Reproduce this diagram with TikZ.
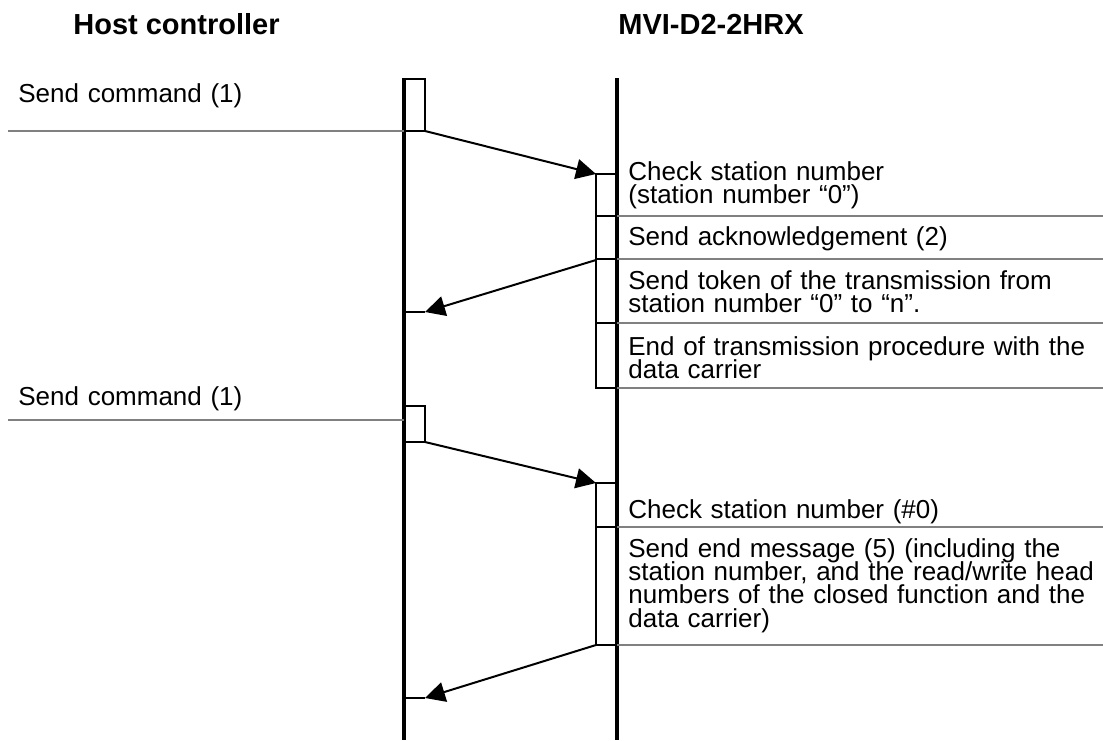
\documentclass[tikz,border=0pt]{standalone}
\usepackage{fontspec}
\setmainfont{Liberation Sans}
\usetikzlibrary{arrows.meta,positioning}
\newcommand{\notefont}{\fontsize{13}{11.7}\selectfont\setlength{\lineskiplimit}{-100pt}}

\begin{document}
\begin{tikzpicture}[x=0.5pt,y=-0.5pt,
  lifeline/.style={line width=2pt},
  actbox/.style={line width=1pt},
  msg/.style={line width=1pt,-{Triangle[length=10pt,width=10pt]}},
  guide/.style={line width=0.8pt,gray},
  title/.style={anchor=base west,inner sep=0pt,font=\fontsize{14.5}{17}\selectfont\bfseries},
  note/.style={anchor=base west,inner sep=0pt,text width=236pt,align=left,font=\notefont}]
\useasboundingbox (0,0) rectangle (1103,740);
% ---- titles ----
\node[title] (host) at (73,34) {Host controller};
\node[title] (mvi) at (618,34) {MVI-D2-2HRX};
% ---- lifelines ----
\draw[lifeline] (404,78) -- (404,740);
\draw[lifeline] (617,78) -- (617,740);
% ---- host controller side ----
\draw[actbox] (404,79) rectangle (425,131);
\draw[actbox] (404,406) rectangle (425,442);
\draw[actbox] (404,312) -- (425,312);
\draw[actbox] (404,698) -- (425,698);
\draw[guide] (8,131) -- (404,131);
\draw[guide] (8,420) -- (404,420);
\node[note,text width=180pt] (cmd1) at (18,102) {Send command (1)};
\node[note,text width=180pt] (cmd2) at (18,405) {Send command (1)};
% ---- module side ----
\draw[actbox] (596,174) rectangle (617,388);
\draw[actbox] (596,483) rectangle (617,645);
\foreach \y in {216,259,323,527}
  \draw[actbox] (596,\y) -- (617,\y);
\foreach \y in {216,259,323,388,527,645}
  \draw[guide] (617,\y) -- (1103,\y);
\node[note] (chk1) at (628,180) {Check station number\\(station number “0”)};
\node[note] (ack) at (628,245) {Send acknowledgement (2)};
\node[note] (tok) at (628,289) {Send token of the transmission from\\station number “0” to “n”.};
\node[note] (eot) at (628,355) {End of transmission procedure with the\\data carrier};
\node[note] (chk2) at (628,518) {Check station number (\#0)};
\node[note] (endmsg) at (628,557) {Send end message (5) (including the\\station number, and the read/write head\\numbers of the closed function and the\\data carrier)};
% ---- messages ----
\coordinate (h1) at (425,131); \coordinate (m1) at (596,174);
\coordinate (m2) at (596,260); \coordinate (h2) at (425,312);
\coordinate (h3) at (425,442); \coordinate (m3) at (596,483);
\coordinate (m4) at (596,645); \coordinate (h4) at (425,698);
\draw[msg] (h1) -- (m1);
\draw[msg] (m2) -- (h2);
\draw[msg] (h3) -- (m3);
\draw[msg] (m4) -- (h4);
\end{tikzpicture}
\end{document}
